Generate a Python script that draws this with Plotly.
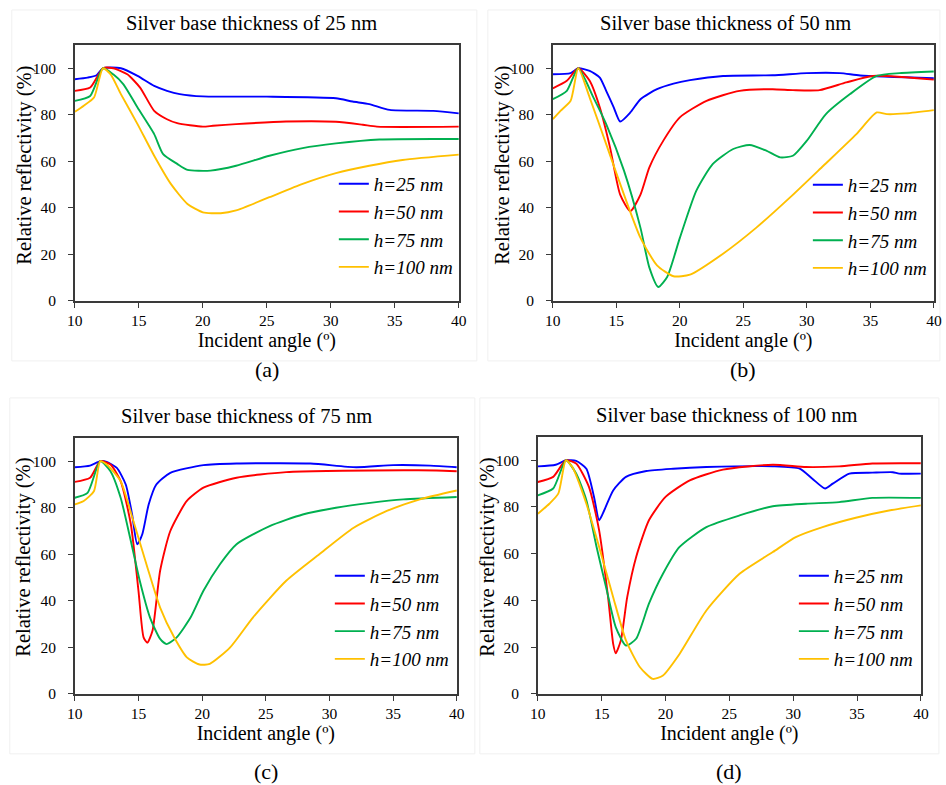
import plotly.graph_objects as go

W, H = 946, 785
FONT = "Liberation Serif"

series_names = ["h=25 nm", "h=50 nm", "h=75 nm", "h=100 nm"]
colors = ["#0000ff", "#ff0000", "#00b050", "#ffc000"]
titles = ["Silver base thickness of 25 nm", "Silver base thickness of 50 nm",
          "Silver base thickness of 75 nm", "Silver base thickness of 100 nm"]
captions = ["(a)", "(b)", "(c)", "(d)"]
x_title = "Incident angle (º)"
y_title = "Relative reflectivity (%)"
x_ticks = [10, 15, 20, 25, 30, 35, 40]
y_ticks = [0, 20, 40, 60, 80, 100]

# ---- panel (a): silver 25 nm ----
a_h25_x = [10, 11, 11.7, 12.2, 13.6, 14.9, 16.2, 17.2, 18.2, 20, 25, 30.4, 31.7, 33, 34.6, 38, 40]
a_h25_y = [95.3, 96, 97, 100, 100, 96.7, 92.4, 90.3, 88.9, 87.9, 87.8, 87.1, 85.7, 84.6, 82.1, 81.7, 80.6]
a_h50_x = [10, 11.2, 12.2, 13, 14.1, 15.1, 16.2, 17.2, 18, 20, 20.8, 22.6, 26.5, 30.4, 32.5, 33.6, 40]
a_h50_y = [90.3, 91.7, 100, 100, 97.4, 91.7, 81.7, 78.1, 76.4, 74.9, 75.3, 76, 77.1, 77, 75.7, 74.9, 74.9]
a_h75_x = [10, 11.2, 12.2, 13, 13.8, 14.9, 16.2, 16.9, 18, 18.8, 20.6, 22.6, 25.2, 27.8, 30.4, 33.8, 40]
a_h75_y = [86, 88.1, 100, 97.4, 93.1, 83.1, 71.7, 63.1, 58.9, 56.3, 56, 58.1, 62.4, 65.7, 67.7, 69.4, 69.6]
a_h100_x = [10, 10.7, 11.5, 12.2, 12.8, 13.6, 14.9, 16.2, 17.5, 18.8, 20, 21.4, 22.6, 25.2, 27.8, 30.4, 33, 35.6, 40]
a_h100_y = [81.3, 83.9, 87.4, 100, 97.4, 88.9, 76, 62.4, 50.3, 41.7, 38.1, 37.7, 38.9, 44.6, 50.3, 54.9, 58.1, 60.6, 62.9]

# ---- panel (b): silver 50 nm ----
b_h25_x = [10, 11.4, 12, 12.9, 13.7, 14.2, 14.8, 15.3, 16.1, 16.9, 18.2, 19.5, 20.8, 23.4, 27.3, 30, 32.6, 34.2, 40]
b_h25_y = [97.4, 97.9, 100, 98.9, 96, 90.3, 83.1, 77.1, 81, 86.7, 91, 93.4, 94.9, 96.7, 97, 97.9, 97.9, 96.9, 95.7]
b_h50_x = [10, 11.1, 12, 12.9, 13.7, 14.5, 15.3, 16.1, 16.9, 17.6, 18.7, 20, 22.1, 24.7, 27.3, 28.9, 31, 33.1, 35.2, 40]
b_h50_y = [91.4, 94.6, 100, 94.6, 83.1, 66, 45.7, 38.6, 45.7, 57.4, 68.9, 78.9, 86, 90.3, 91, 90.6, 90.6, 93.9, 96.7, 95.1]
b_h75_x = [10, 11.1, 12, 13.2, 14.2, 15.6, 16.9, 17.6, 18.3, 19, 20, 21.3, 22.6, 24.2, 25.5, 26.8, 27.9, 28.9, 30, 31.5, 33.4, 35.5, 37.3, 40]
b_h75_y = [86.7, 90.3, 100, 87.4, 76, 56, 31.4, 14.3, 6, 10.3, 27.1, 47.4, 58.9, 65.3, 67, 64.6, 61.7, 62.4, 68.9, 80.3, 88.9, 96.7, 97.9, 98.6]
b_h100_x = [10, 10.6, 11.4, 12, 12.9, 14.2, 15.6, 16.9, 18.2, 19.5, 20.8, 23.4, 26, 28.7, 31.3, 33.9, 35.5, 36.3, 37.8, 40]
b_h100_y = [78.1, 81.7, 86, 100, 87.4, 67.4, 45.7, 27.1, 15.3, 10.6, 11.3, 20.3, 31.4, 44.6, 58.1, 71.7, 81, 80.3, 80.6, 82]

# ---- panel (c): silver 75 nm ----
c_h25_x = [10, 11.2, 12, 12.5, 13.3, 14, 14.5, 14.9, 15.3, 15.8, 16.4, 17.5, 20.1, 22.7, 28.5, 32.1, 35, 37.9, 40]
c_h25_y = [97.4, 98.1, 100, 99.7, 97.1, 90, 77.1, 64.3, 68.6, 81.4, 90, 95, 98.3, 99, 99, 97.4, 98.3, 98.1, 97.4]
c_h50_x = [10, 11.2, 12, 12.8, 13.6, 14.4, 15, 15.4, 15.7, 16.1, 16.7, 17.5, 18.8, 20.1, 22.7, 26.6, 35.8, 38.4, 40]
c_h50_y = [91.1, 92.9, 100, 98.6, 91.4, 72.9, 44.3, 24.3, 22, 27.1, 52.9, 70, 82.9, 88.6, 92.9, 95.3, 96.1, 96, 95.7]
c_h75_x = [10, 11, 12, 12.8, 13.6, 14.4, 15.1, 15.9, 16.7, 17.2, 18, 19.1, 20.1, 21.4, 22.7, 25.3, 27.9, 30.5, 33.2, 35.8, 40]
c_h75_y = [84.3, 86.4, 100, 95.7, 84.3, 65.7, 48.6, 32.9, 23.6, 21.4, 24.3, 32.9, 44.3, 55.7, 64.3, 72.1, 77.1, 80, 82.1, 83.6, 84.6]
c_h100_x = [10, 10.7, 11.5, 12, 12.5, 13.6, 14.6, 15.7, 16.7, 17.8, 18.8, 19.8, 20.6, 22.2, 24, 26.6, 29.2, 31.9, 34.5, 37.1, 40]
c_h100_y = [81.4, 82.9, 87.1, 100, 98.6, 91.4, 74.3, 54.3, 37.1, 24.3, 15.7, 12.6, 12.9, 20, 32.9, 48.6, 60, 71.4, 78.6, 83.6, 87.4]

# ---- panel (d): silver 100 nm ----
d_h25_x = [10, 11.4, 12.2, 13, 13.8, 14.4, 14.8, 15.2, 15.9, 16.9, 18.5, 20.6, 23.2, 28.4, 30.5, 31.5, 32.5, 33.1, 34.4, 36.2, 37.8, 38.3, 40]
d_h25_y = [97.4, 98.1, 100, 99.7, 96.4, 84.3, 74.3, 78.6, 87.1, 92.9, 95.4, 96.4, 97.1, 97.4, 96.4, 92.1, 87.9, 90, 94.3, 94.7, 94.9, 94.3, 94.3]
d_h50_x = [10, 11.2, 12.2, 13, 14, 14.8, 15.5, 15.9, 16.1, 16.5, 17, 17.7, 18.7, 20, 21.9, 24.5, 28.4, 31, 33.6, 36.2, 40]
d_h50_y = [90.7, 92.9, 100, 98.6, 88.6, 70, 41.4, 21.4, 17.4, 22.9, 41.4, 58.6, 74.3, 84.3, 91.4, 96, 98.1, 97.1, 97.4, 98.6, 98.7]
d_h75_x = [10, 11.2, 12.2, 13, 13.8, 14.6, 15.4, 16.1, 16.9, 17.7, 18.7, 19.8, 21.1, 23.2, 25.8, 28.4, 31, 33.6, 36.2, 40]
d_h75_y = [85, 87.9, 100, 94.3, 82.9, 62.9, 44.3, 28.6, 20.7, 23.6, 38.6, 51.4, 62.9, 71.4, 76.4, 80.3, 81.4, 82.1, 83.9, 83.9]
d_h100_x = [10, 10.9, 11.6, 12.2, 12.7, 13.8, 14.8, 15.9, 16.9, 18, 19, 19.8, 21.1, 23.2, 25.8, 28.4, 30.2, 32.3, 34.9, 37.6, 40]
d_h100_y = [77.1, 81.4, 85.7, 100, 97.1, 81.4, 62.9, 41.4, 22.9, 11.4, 6.4, 7.9, 17.1, 35.7, 51.4, 60.7, 67.1, 71.4, 75.4, 78.6, 80.7]

panels = [
    [(a_h25_x, a_h25_y), (a_h50_x, a_h50_y), (a_h75_x, a_h75_y), (a_h100_x, a_h100_y)],
    [(b_h25_x, b_h25_y), (b_h50_x, b_h50_y), (b_h75_x, b_h75_y), (b_h100_x, b_h100_y)],
    [(c_h25_x, c_h25_y), (c_h50_x, c_h50_y), (c_h75_x, c_h75_y), (c_h100_x, c_h100_y)],
    [(d_h25_x, d_h25_y), (d_h50_x, d_h50_y), (d_h75_x, d_h75_y), (d_h100_x, d_h100_y)],
]

# target positions in screen pixels
boxes = [(75, 459, 44, 300), (553, 934, 44, 300), (75, 457, 437, 693), (538, 921, 436, 693)]
legend_box = [(334, 164), (808, 165), (330, 556), (794, 556)]   # legend left/top
frames = [(12, 477, 9, 360), (488, 940, 9, 360), (10, 475, 397, 753), (480, 939, 397, 753)]
title_pos = [(252, 22), (726, 22), (247, 415), (727, 414)]
ytitle_pos = [(25, 164), (503, 164), (24, 556), (488, 556)]
caption_y = [369, 369, 771, 771]

# the page as photographed maps figure pixels to screen pixels slightly
# differently (measured): screen_x = 8.2 + 0.983*x, screen_y = 0.99*y - 1
def px(x):
    return ((x - 8.2) / 0.983) / W

def py(y):
    return 1 - ((y + 1) / 0.99) / H

fig = go.Figure()
layout = dict(
    width=W, height=H, autosize=False,
    margin=dict(l=0, r=0, t=0, b=0),
    paper_bgcolor="white", plot_bgcolor="white",
    font=dict(family=FONT, size=15, color="black"),
    annotations=[], shapes=[],
)

axis_line = "#3a3a3a"
for i in range(4):
    sfx = "" if i == 0 else str(i + 1)
    lg = "legend" if i == 0 else "legend" + str(i + 1)
    for j in range(4):
        xs, ys = panels[i][j]
        fig.add_trace(go.Scatter(
            x=xs, y=ys, mode="lines",
            line=dict(color=colors[j], width=1.9, shape="spline", smoothing=0.6),
            name="<i>" + series_names[j] + "</i>",
            xaxis="x" + sfx, yaxis="y" + sfx,
            legend=lg,
        ))
    l, r, t, b = boxes[i]
    layout["xaxis" + sfx] = dict(
        domain=[px(l), px(r)], anchor="y" + sfx, range=[10, 40],
        tickvals=x_ticks, ticks="outside", ticklen=5, tickwidth=1.2, tickcolor=axis_line,
        showline=True, linecolor=axis_line, linewidth=1.5, mirror=True,
        showgrid=False, zeroline=False,
        tickfont=dict(size=15.5, family=FONT),
        title=dict(text=x_title, font=dict(size=20, family=FONT), standoff=1),
    )
    layout["yaxis" + sfx] = dict(
        domain=[py(b), py(t)], anchor="x" + sfx, range=[0, 110],
        tickvals=y_ticks, ticks="outside", ticklen=5, tickwidth=1.2, tickcolor=axis_line,
        showline=True, linecolor=axis_line, linewidth=1.5, mirror=True,
        showgrid=False, zeroline=False, ticklabelstandoff=9,
        tickfont=dict(size=15.5, family=FONT),
    )
    lx, ly = legend_box[i]
    layout[lg] = dict(
        x=px(lx), y=py(ly), xanchor="left", yanchor="top",
        xref="paper", yref="paper",
        bgcolor="rgba(0,0,0,0)", borderwidth=0,
        font=dict(size=19, family=FONT),
        itemwidth=30,
    )
    cx = (l + r) / 2
    tx, ty = title_pos[i]
    layout["annotations"].append(dict(
        text=titles[i], x=px(tx), y=py(ty), xref="paper", yref="paper",
        showarrow=False, xanchor="center", yanchor="middle",
        font=dict(size=20.5, family=FONT)))
    yx, yy = ytitle_pos[i]
    layout["annotations"].append(dict(
        text=y_title, x=px(yx), y=py(yy), xref="paper", yref="paper",
        showarrow=False, xanchor="center", yanchor="middle", textangle=-90,
        font=dict(size=20.5, family=FONT)))
    layout["annotations"].append(dict(
        text=captions[i], x=px(cx), y=py(caption_y[i]), xref="paper", yref="paper",
        showarrow=False, xanchor="center", yanchor="middle",
        font=dict(size=22, family=FONT)))
    fl, fr, ft, fb = frames[i]
    layout["shapes"].append(dict(
        type="rect", xref="paper", yref="paper",
        x0=px(fl), x1=px(fr), y0=py(fb), y1=py(ft),
        line=dict(color="#f0f0f0", width=1), layer="below"))

fig.update_layout(**layout)

page_fix = (
    "var de=document.documentElement,bd=document.body;"
    "de.style.margin='0';de.style.padding='0';de.style.overflow='hidden';"
    "bd.style.margin='0';bd.style.padding='0';bd.style.overflow='hidden';"
)
fig.write_html("out.html", config={"displayModeBar": False}, post_script=page_fix)
